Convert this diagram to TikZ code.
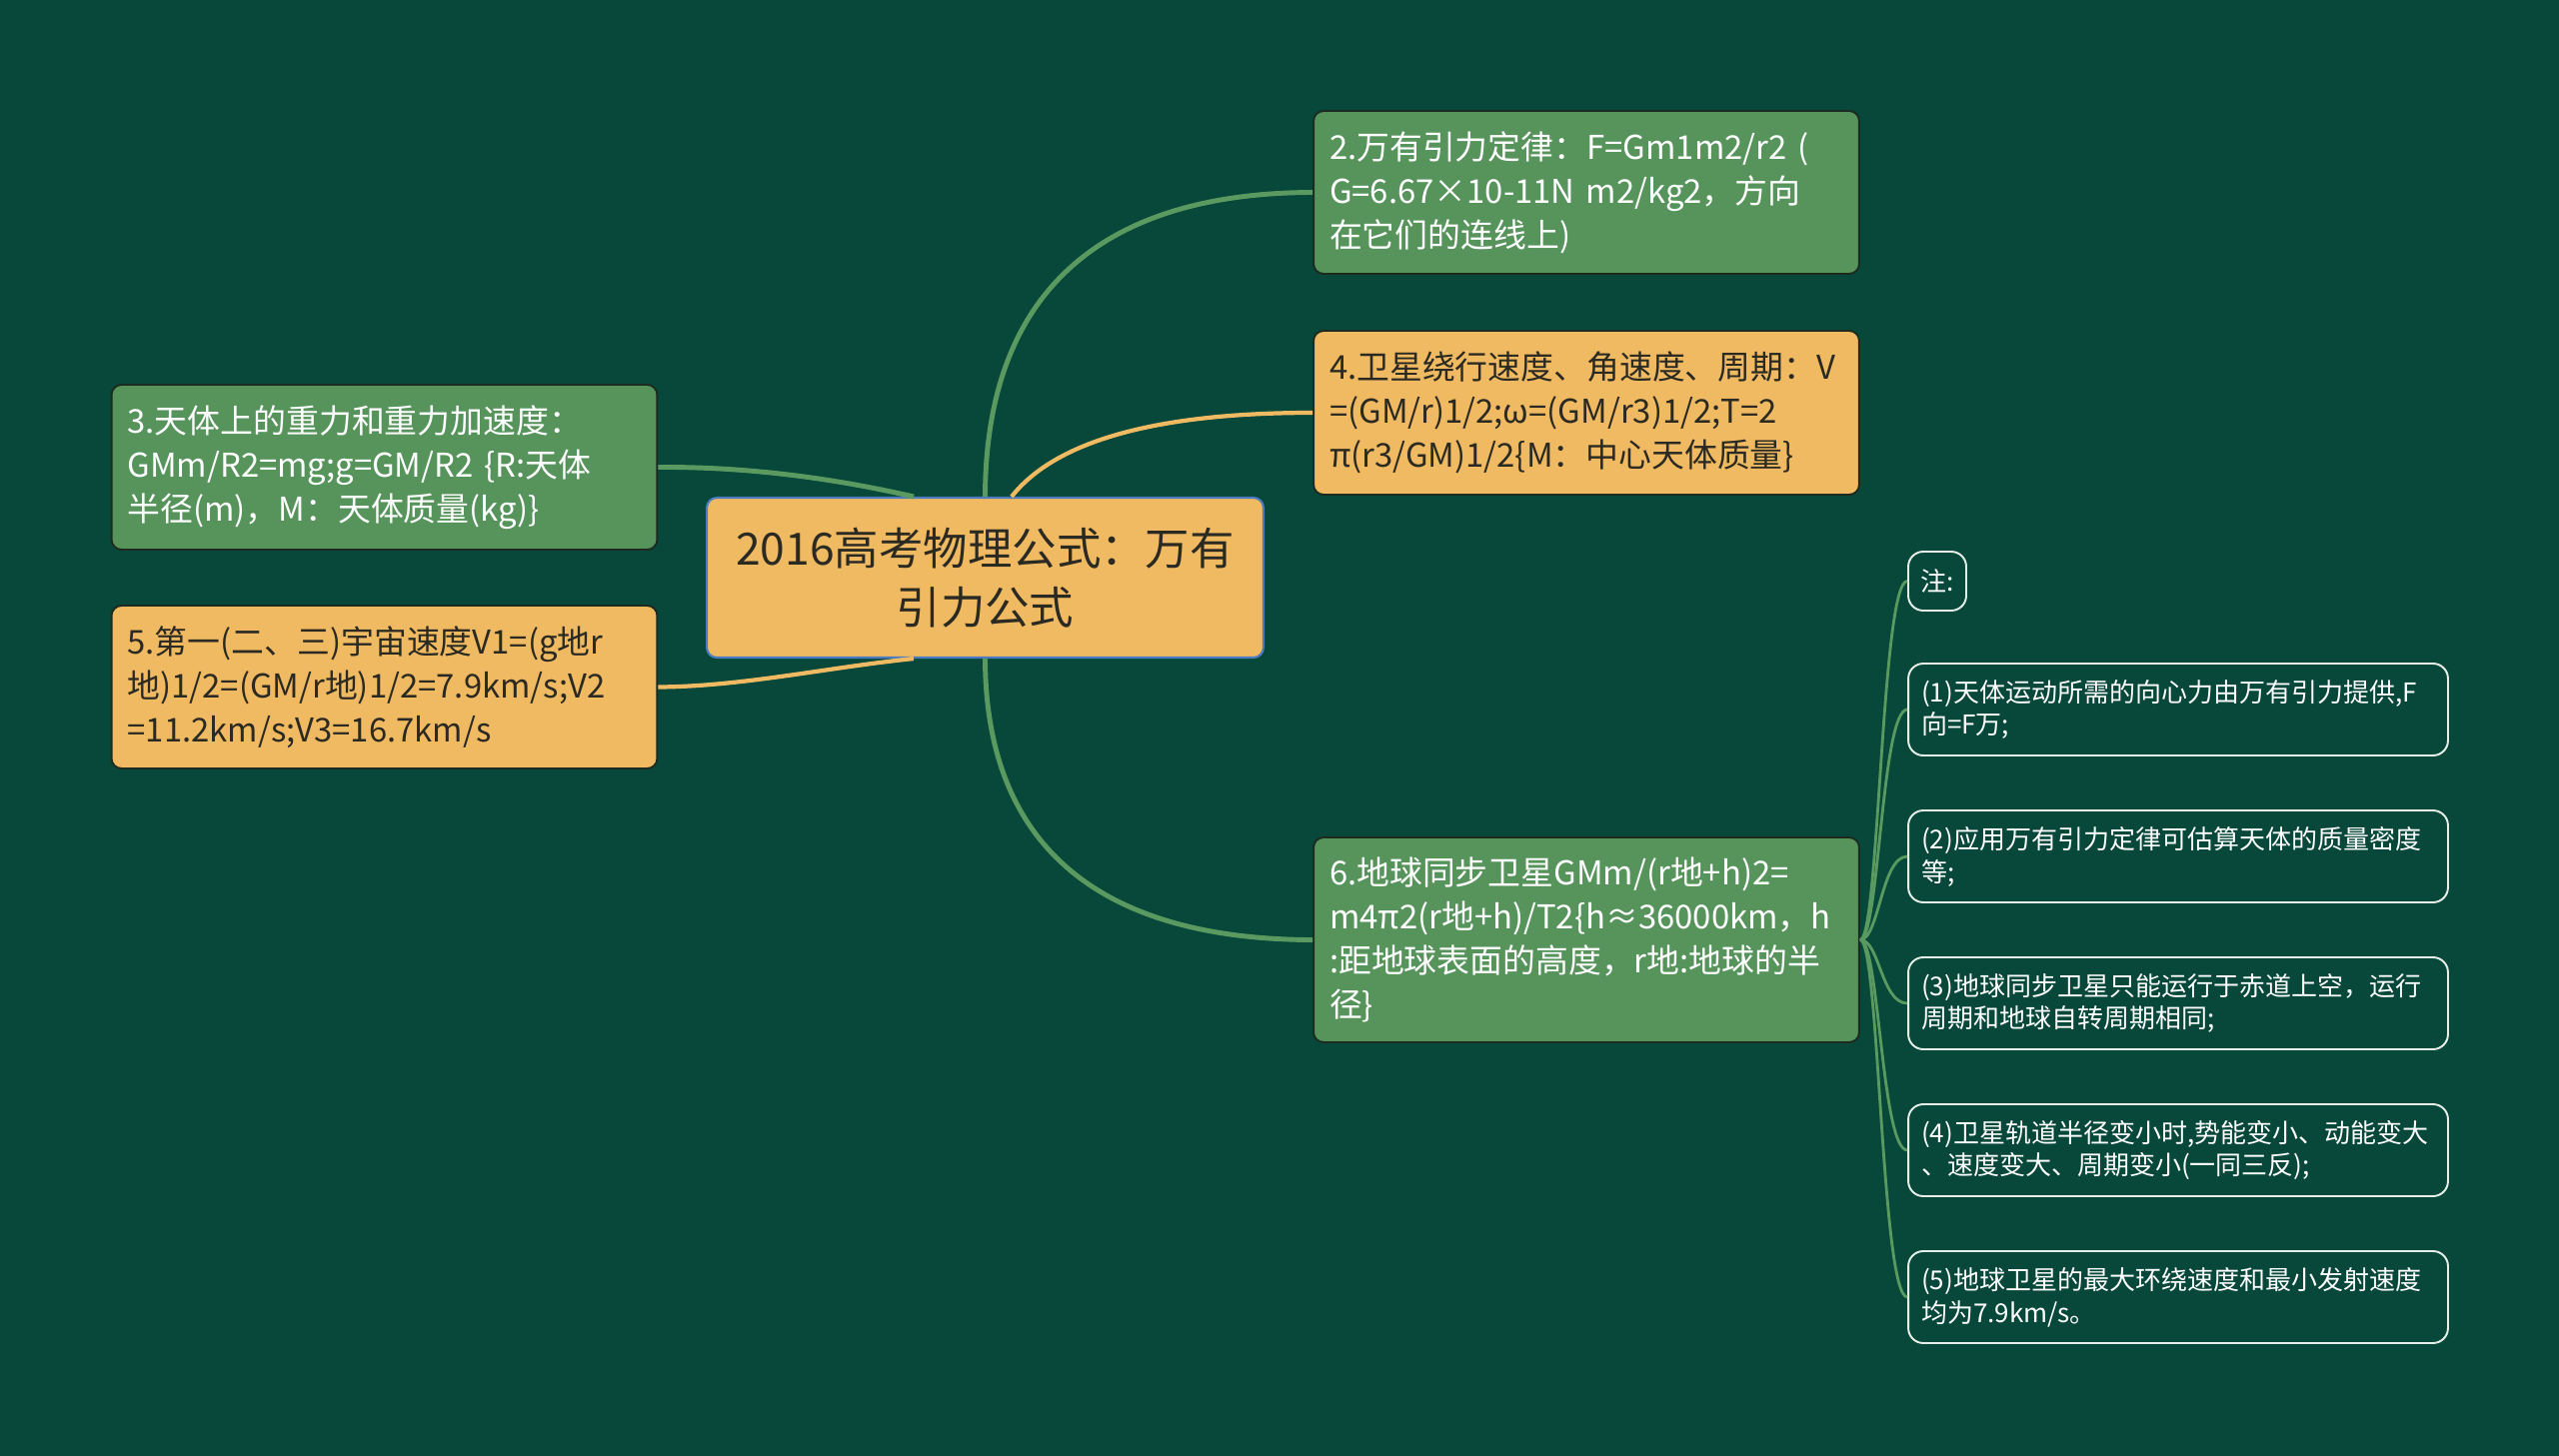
\documentclass[tikz,border=0pt]{standalone}
\usepackage{fontspec}
\setmainfont{Noto Sans CJK SC}
\definecolor{bgc}{HTML}{07483A}
\definecolor{gfill}{HTML}{56945C}
\definecolor{gline}{HTML}{5A9A60}
\definecolor{ofill}{HTML}{F0BA62}
\definecolor{ink}{HTML}{2B2A22}
\definecolor{boxline}{HTML}{1C2A20}
\definecolor{rootline}{HTML}{4C7CBF}
\definecolor{noteline}{HTML}{E6EEE8}
\begin{document}
\begin{tikzpicture}[x=0.02cm, y=-0.02cm,
  root/.style={draw=rootline, line width=1.2pt, fill=ofill, rounded corners=0.2cm, minimum width=11.14cm, minimum height=3.2cm,
    align=center, text=ink, font=\fontsize{25.3pt}{33.4pt}\selectfont},
  gbox/.style={draw=boxline, line width=1.1pt, fill=gfill, rounded corners=0.2cm, text width=10.28cm, inner xsep=0.32cm,
    align=left, text=white, font=\fontsize{18.7pt}{25pt}\selectfont},
  obox/.style={gbox, fill=ofill, text=ink},
  nbox/.style={draw=noteline, line width=1.1pt, fill=bgc, rounded corners=0.3cm, align=left, text=white,
    font=\fontsize{14.8pt}{18.7pt}\selectfont},
  nitem/.style={nbox, text width=10.28cm, inner xsep=0.26cm, minimum height=1.84cm},
  gedge/.style={line width=2.8pt, gline}, oedge/.style={line width=2.4pt, ofill}, nedge/.style={line width=1.6pt, gline}]
\fill[bgc] (0,0) rectangle (2560,1457);
\useasboundingbox (0,0) rectangle (2560,1457);
% centre and main branches
\node[root] (root) at (985.5,578) {2016高考物理公式：万有\\引力公式};
\node[gbox, minimum height=3.26cm] (law) at (1587,192.5) {2.万有引力定律：F=Gm1m2/r2~(\\G=6.67×10-11N~m2/kg2，方向\\在它们的连线上)};
\node[obox, minimum height=3.28cm] (orbit) at (1587,413) {4.卫星绕行速度、角速度、周期：V\\=(GM/r)1/2;ω=(GM/r3)1/2;T=2\\π(r3/GM)1/2\{M：中心天体质量\}};
\node[gbox, minimum height=3.3cm] (gravity) at (384.5,467.5) {3.天体上的重力和重力加速度：\\GMm/R2=mg;g=GM/R2~\{R:天体\\半径(m)，M：天体质量(kg)\}};
\node[obox, minimum height=3.26cm] (cosmic) at (384.5,687.5) {5.第一(二、三)宇宙速度V1=(g地r\\地)1/2=(GM/r地)1/2=7.9km/s;V2\\=11.2km/s;V3=16.7km/s};
\node[gbox, minimum height=4.1cm] (sync) at (1587,940.5) {6.地球同步卫星GMm/(r地+h)2=\\m4π2(r地+h)/T2\{h≈36000km，h\\:距地球表面的高度，r地:地球的半\\径\}};
\draw[gedge] (root.north) .. controls (986,295) and (1099,193) .. (law.west);
\draw[oedge] ([xshift=0.53cm]root.north) .. controls (1056,441) and (1157,413) .. (orbit.west);
\draw[gedge] (gravity.east) .. controls (742,467) and (827,477) .. ([xshift=-1.43cm]root.north);
\draw[oedge] (cosmic.east) .. controls (742,687) and (827,668) .. ([xshift=-1.43cm]root.south);
\draw[gedge] (root.south) .. controls (986,846) and (1099,940) .. (sync.west);
% notes on the satellite branch
\node[nbox, minimum width=1.16cm, minimum height=1.18cm, inner sep=0pt, align=center] (nhead) at (1938,581.5) {注:};
\node[nitem] (n1) at (2179,710) {(1)天体运动所需的向心力由万有引力提供,F\\向=F万;};
\node[nitem] (n2) at (2179,857) {(2)应用万有引力定律可估算天体的质量密度\\等;};
\node[nitem] (n3) at (2179,1004) {(3)地球同步卫星只能运行于赤道上空，运行\\周期和地球自转周期相同;};
\node[nitem] (n4) at (2179,1151) {(4)卫星轨道半径变小时,势能变小、动能变大\\、速度变大、周期变小(一同三反);};
\node[nitem] (n5) at (2179,1298) {(5)地球卫星的最大环绕速度和最小发射速度\\均为7.9km/s。};
\draw[nedge] (sync.east) .. controls (1880,940) and (1882,581.5) .. (nhead.west);
\draw[nedge] (sync.east) .. controls (1880,940) and (1882,710) .. (n1.west);
\draw[nedge] (sync.east) .. controls (1880,940) and (1882,857) .. (n2.west);
\draw[nedge] (sync.east) .. controls (1880,940) and (1882,1004) .. (n3.west);
\draw[nedge] (sync.east) .. controls (1880,940) and (1882,1151) .. (n4.west);
\draw[nedge] (sync.east) .. controls (1880,940) and (1882,1298) .. (n5.west);
\end{tikzpicture}
\end{document}
